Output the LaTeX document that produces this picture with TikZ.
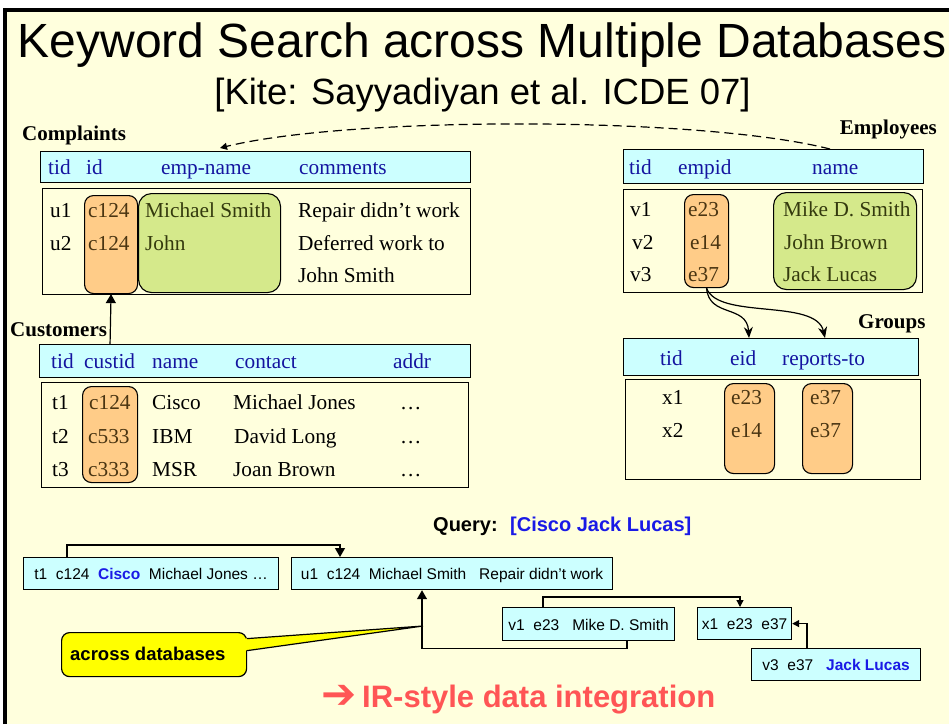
\documentclass[tikz,border=0pt]{standalone}
\usepackage{fontspec}
\setmainfont{Liberation Serif}
\newfontfamily\arial{Liberation Sans}
\newfontfamily\dejavu{DejaVu Sans}
\usetikzlibrary{arrows.meta,calc}

\definecolor{slide}{HTML}{FFFFDD}
\definecolor{hdrcyan}{HTML}{CCFFFF}
\definecolor{hdrblue}{HTML}{1414A0}
\definecolor{keyorange}{HTML}{FFCC88}
\definecolor{keygreen}{HTML}{D5E98B}
\definecolor{qblue}{HTML}{1A1AE6}
\definecolor{irred}{HTML}{FF5555}
\definecolor{calloutyellow}{HTML}{FFFF00}
\definecolor{keyink}{HTML}{4A3512}
\definecolor{nameink}{HTML}{343A0E}

\tikzset{
  tablehead/.style={draw=black, fill=hdrcyan, line width=1.4pt, inner sep=0pt, anchor=north west},
  tablebody/.style={draw=black, line width=1.3pt, inner sep=0pt, anchor=north west},
  keycol/.style={draw=black, fill=keyorange, rounded corners=9pt, line width=1.1pt, inner sep=0pt, anchor=north west},
  namecol/.style={draw=black, fill=keygreen, rounded corners=13pt, line width=1.1pt, inner sep=0pt, anchor=north west},
  colhead/.style={font=\fontsize{21.3}{24}\selectfont, text=hdrblue, anchor=base west, inner sep=0pt},
  cell/.style={font=\fontsize{21.3}{24}\selectfont, anchor=base west, inner sep=0pt},
  keycell/.style={cell, text=keyink},
  namecell/.style={cell, text=nameink},
  tablename/.style={font=\fontsize{21}{24}\selectfont\bfseries, inner sep=0pt},
  rowbox/.style={draw=black, fill=hdrcyan, line width=1.2pt, inner sep=0pt, anchor=north west,
                 font=\arial\fontsize{15.5}{18}\selectfont, text height=13.5pt, text depth=1pt},
  link/.style={draw=black, line width=1.2pt},
  tri/.style={link, -{Triangle[length=9pt,width=10pt]}},
  smalltri/.style={link, -{Triangle[length=7pt,width=7pt]}},
  curvy/.style={link, -{Stealth[length=11pt,width=9pt]}},
}

\begin{document}
\begin{tikzpicture}[x=1pt,y=-1pt]
\useasboundingbox (0,0) rectangle (949,724);

% slide background and frame
\fill[white] (0,0) rectangle (949,724);
\fill[slide] (5,10) rectangle (949,724);
\draw[line width=3.4pt] (5,724) -- (5,10) -- (949,10);

% titles
\node[font=\arial\fontsize{48}{50}\selectfont, anchor=base, inner sep=0pt] (title) at (482,57)
  {Keyword Search across Multiple Databases};
\node[font=\arial\fontsize{36.5}{40}\selectfont, anchor=base, inner sep=0pt] (subtitle) at (482.5,104)
  {[Kite: Sayyadiyan et al. ICDE 07]};

% ---------------- Complaints ----------------
\node[tablename, anchor=base west] (cmpLabel) at (22,140) {Complaints};
\node[tablehead, minimum width=430pt, minimum height=31pt] (cmpHead) at (40,151) {};
\node[tablebody, minimum width=428pt, minimum height=106pt] (cmpBody) at (42,188) {};
\node[keycol, minimum width=53pt, minimum height=98pt] (cmpId) at (84,195) {};
\node[namecol, minimum width=142pt, minimum height=99pt] (cmpName) at (138,193) {};
\node[colhead] (cmpH1) at (48,174) {tid};
\node[colhead] (cmpH2) at (86,174) {id};
\node[colhead] (cmpH3) at (161,174) {emp-name};
\node[colhead] (cmpH4) at (299,174) {comments};
\node[cell] (cmpA1) at (50,217) {u1};
\node[keycell] (cmpA2) at (88,217) {c124};
\node[namecell] (cmpA3) at (145,217) {Michael Smith};
\node[cell] (cmpA4) at (298,217) {Repair didn’t work};
\node[cell] (cmpB1) at (50,250) {u2};
\node[keycell] (cmpB2) at (88,250) {c124};
\node[namecell] (cmpB3) at (145,250) {John};
\node[cell] (cmpB4) at (298,250) {Deferred work to};
\node[cell] (cmpC4) at (298,282) {John Smith};

% ---------------- Employees ----------------
\node[tablename, anchor=base east] (empLabel) at (937,134) {Employees};
\node[tablehead, minimum width=300pt, minimum height=34pt] (empHead) at (623,149) {};
\node[tablebody, minimum width=299pt, minimum height=103pt] (empBody) at (623,189) {};
\node[keycol, minimum width=44pt, minimum height=93pt] (empId) at (684,194) {};
\node[namecol, minimum width=143pt, minimum height=97pt] (empName) at (773,192) {};
\node[colhead] (empH1) at (629,174) {tid};
\node[colhead] (empH2) at (678,174) {empid};
\node[colhead] (empH3) at (812,174) {name};
\node[cell] (empA1) at (630,216) {v1};
\node[keycell] (empA2) at (688,216) {e23};
\node[namecell] (empA3) at (783,216) {Mike D. Smith};
\node[cell] (empB1) at (632,249) {v2};
\node[keycell] (empB2) at (690,249) {e14};
\node[namecell] (empB3) at (784,249) {John Brown};
\node[cell] (empC1) at (630,281) {v3};
\node[keycell] (empC2) at (688,281) {e37};
\node[namecell] (empC3) at (783,281) {Jack Lucas};

% ---------------- Customers ----------------
\node[tablename, anchor=base west] (cusLabel) at (10,336) {Customers};
\node[tablehead, minimum width=431pt, minimum height=33pt] (cusHead) at (39,344) {};
\node[tablebody, minimum width=427pt, minimum height=105pt] (cusBody) at (41,382) {};
\node[keycol, minimum width=55pt, minimum height=96pt] (cusId) at (82,386) {};
\node[colhead] (cusH1) at (51,368) {tid};
\node[colhead] (cusH2) at (84,368) {custid};
\node[colhead] (cusH3) at (152,368) {name};
\node[colhead] (cusH4) at (235,368) {contact};
\node[colhead] (cusH5) at (393,368) {addr};
\node[cell] (cusA1) at (52,409) {t1};
\node[keycell] (cusA2) at (89,409) {c124};
\node[cell] (cusA3) at (152,409) {Cisco};
\node[cell] (cusA4) at (233,409) {Michael Jones};
\node[cell] (cusA5) at (400,409) {…};
\node[cell] (cusB1) at (52,443) {t2};
\node[keycell] (cusB2) at (88,443) {c533};
\node[cell] (cusB3) at (152,443) {IBM};
\node[cell] (cusB4) at (234,443) {David Long};
\node[cell] (cusB5) at (400,443) {…};
\node[cell] (cusC1) at (52,476) {t3};
\node[keycell] (cusC2) at (88,476) {c333};
\node[cell] (cusC3) at (152,476) {MSR};
\node[cell] (cusC4) at (233,476) {Joan Brown};
\node[cell] (cusC5) at (400,476) {…};

% ---------------- Groups ----------------
\node[tablename, anchor=base west] (grpLabel) at (858,328) {Groups};
\node[tablehead, minimum width=295pt, minimum height=37pt] (grpHead) at (623,338) {};
\node[tablebody, minimum width=295pt, minimum height=100pt] (grpBody) at (625,379) {};
\node[keycol, minimum width=50pt, minimum height=90pt] (grpEid) at (724,383) {};
\node[keycol, minimum width=50pt, minimum height=90pt] (grpRep) at (802,383) {};
\node[colhead] (grpH1) at (660,365) {tid};
\node[colhead] (grpH2) at (730,365) {eid};
\node[colhead] (grpH3) at (782,365) {reports-to};
\node[cell] (grpA1) at (662,404) {x1};
\node[keycell] (grpA2) at (731,404) {e23};
\node[keycell] (grpA3) at (810,404) {e37};
\node[cell] (grpB1) at (662,437) {x2};
\node[keycell] (grpB2) at (731,437) {e14};
\node[keycell] (grpB3) at (810,437) {e37};

% ---------------- links between tables ----------------
\draw[smalltri, dash pattern=on 9pt off 5pt]
  ($(empHead.north west)+(207,0)$) .. controls (700,116) and (350,116) .. ($(cmpHead.north west)+(180,-3)$);
\draw[tri] (cusId.north |- cusHead.north) -- (cmpId.south);
\draw[curvy] (empId.south) .. controls (709,318) and (747,304) .. ($(grpHead.north west)+(126,0)$);
\draw[curvy] (empId.south) .. controls (718,320) and (816,298) .. ($(grpHead.north west)+(202,0)$);

% ---------------- query and joined tuples ----------------
\node[font=\arial\fontsize{20}{22}\selectfont\bfseries, anchor=base west, inner sep=0pt] (qLabel) at (433,531) {Query:};
\node[font=\arial\fontsize{20}{22}\selectfont\bfseries, text=qblue, anchor=base west, inner sep=0pt] (qWords) at (510,531) {[Cisco Jack Lucas]};

\node[rowbox, minimum width=255pt, minimum height=32pt] (qA) at (23,557)
  {t1\ \ c124\ \ \textcolor{qblue}{\bfseries Cisco}\ \ Michael Jones …};
\node[rowbox, minimum width=321pt, minimum height=32pt] (qB) at (291,557)
  {u1\ \ c124\ \ Michael Smith\ \ \ Repair didn’t work};
\node[rowbox, minimum width=172pt, minimum height=33pt] (qC) at (502,607)
  {v1\ \ e23\ \ \ Mike D. Smith};
\node[rowbox, minimum width=94pt, minimum height=32pt] (qD) at (697,607)
  {x1\ \ e23\ \ e37};
\node[rowbox, minimum width=169pt, minimum height=32pt] (qE) at (751,648)
  {v3\ \ e37\ \ \ \textcolor{qblue}{\bfseries Jack Lucas}};

\draw[tri] ([xshift=44pt]qA.north west) -- ++(0,-12) -| ([xshift=49pt]qB.north west);
\draw[smalltri] ([xshift=41pt]qC.north west) -- ++(0,-10) -| ([xshift=43pt]qD.north west);
\draw[smalltri] ([xshift=56pt]qE.north west) |- (qD.east);
\draw[tri] ([xshift=125pt]qC.south west) -- ++(0,7) -| ([xshift=131pt]qB.south west);

% callout
\coordinate (calloutTip) at (423,626);
\node[draw=black, fill=calloutyellow, line width=1.2pt, rounded corners=8pt, anchor=north west,
      minimum width=185pt, minimum height=44pt, inner sep=0pt] (callout) at (61,632) {};
\fill[calloutyellow] ($(callout.east)+(-3,-16)$) -- (calloutTip) -- ($(callout.east)+(-3,-4)$) -- cycle;
\draw[line width=1.2pt, line join=miter] ($(callout.east)+(0,-16)$) -- (calloutTip) -- ($(callout.east)+(0,-4)$);
\node[font=\arial\fontsize{18.5}{20}\selectfont\bfseries, anchor=base west, inner sep=0pt] (calloutText) at (70,660) {across databases};

% conclusion line
\node[font=\dejavu\bfseries\fontsize{42}{46}\selectfont, text=irred, anchor=west, inner sep=0pt] (irArrow) at (321,697) {➔};
\node[font=\arial\fontsize{31}{34}\selectfont\bfseries, text=irred, anchor=base west, inner sep=0pt] (irText) at (362,707) {IR-style data integration};
\end{tikzpicture}
\end{document}
